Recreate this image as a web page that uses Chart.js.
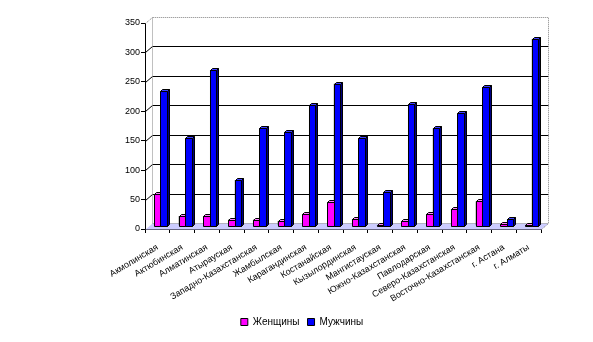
<!DOCTYPE html>
<html>
<head>
<meta charset="utf-8">
<script src="https://cdn.jsdelivr.net/npm/chart.js@4.4.1/dist/chart.umd.min.js"></script>
<style>
  html, body { margin: 0; padding: 0; background: #fff; }
  #wrap { width: 593px; height: 342px; }
</style>
</head>
<body>
<div id="wrap"><canvas id="chart"></canvas></div>
<script>
"use strict";
const regions = [
    'Акмолинская', 'Актюбинская', 'Алматинская', 'Атырауская',
    'Западно-Казахстанская', 'Жамбылская', 'Карагандинская', 'Костанайская',
    'Кызылординская', 'Мангистауская', 'Южно-Казахстанская', 'Павлодарская',
    'Северо-Казахстанская', 'Восточно-Казахстанская', 'г. Астана', 'г. Алматы'
];
const women = [54, 17, 17, 11, 11, 9, 21, 40, 12, 2, 8, 21, 29, 42, 3, 2];
const men = [230, 150, 265, 78, 166, 160, 206, 242, 149, 57, 207, 166, 192, 236, 12, 318];
const yMax = 350;
const yStep = 50;

const FONT = 'Arial, "Liberation Sans", sans-serif';
const DX = 7, DY = 6;      // depth of the box (back wall offset)
const BX = 3, BY = -3;     // bars stand in the middle of the depth
const D = 2;               // depth of each bar

function poly(ctx, pts, fill, stroke) {
    ctx.beginPath();
    ctx.moveTo(pts[0][0], pts[0][1]);
    for (let i = 1; i < pts.length; i++) ctx.lineTo(pts[i][0], pts[i][1]);
    ctx.closePath();
    if (fill) { ctx.fillStyle = fill; ctx.fill(); }
    if (stroke) { ctx.strokeStyle = stroke; ctx.lineWidth = 1; ctx.stroke(); }
}

const box3d = {
    id: 'box3d',
    beforeDatasetsDraw(chart) {
        const { ctx, chartArea: a, scales: { y } } = chart;
        const L = a.left + 0.5, R = a.right + 0.5, T = a.top + 0.5, B = a.bottom + 0.5;
        ctx.save();
        // floor
        poly(ctx, [[L, B], [R, B], [R + DX, B - DY], [L + DX, B - DY]], '#ccccff', null);
        // grid lines on the side and back walls
        ctx.strokeStyle = '#000';
        ctx.lineWidth = 1;
        for (let v = yStep; v < yMax; v += yStep) {
            const yy = Math.round(y.getPixelForValue(v)) + 0.5;
            ctx.beginPath();
            ctx.moveTo(L, yy);
            ctx.lineTo(L + DX, yy - DY);
            ctx.lineTo(R + DX, yy - DY);
            ctx.stroke();
        }
        // dotted frame
        ctx.setLineDash([1, 1]);
        ctx.strokeStyle = '#808080';
        ctx.beginPath();
        ctx.moveTo(L, T);
        ctx.lineTo(L + DX, T - DY);
        ctx.lineTo(R + DX, T - DY);
        ctx.lineTo(R + DX, B - DY);
        ctx.lineTo(R, B);
        ctx.moveTo(L + DX, T - DY);
        ctx.lineTo(L + DX, B - DY);
        ctx.lineTo(R + DX, B - DY);
        ctx.stroke();
        ctx.restore();

        ctx.save();
        ctx.translate(BX, BY);
    },
    afterDatasetsDraw(chart) {
        const { ctx } = chart;
        const faces = [
            { front: '#ff00ff', top: '#ff80ff', side: '#800080' },
            { front: '#0000ff', top: '#4040ff', side: '#000080' }
        ];
        const metas = chart.getSortedVisibleDatasetMetas();
        const n = chart.data.labels.length;
        for (let i = 0; i < n; i++) {
            metas.forEach((meta, k) => {
                const bar = meta.data[i];
                const f = faces[k];
                const x1 = Math.round(bar.x - bar.width / 2) + 0.5;
                const x2 = Math.round(bar.x + bar.width / 2) + 0.5;
                const yt = Math.round(bar.y) + 0.5;
                const yb = Math.round(bar.base) + 0.5;
                poly(ctx, [[x1, yt], [x2, yt], [x2, yb], [x1, yb]], f.front, '#000');
                poly(ctx, [[x2, yt], [x2 + D, yt - D], [x2 + D, yb - D], [x2, yb]], f.side, '#000');
                poly(ctx, [[x1, yt], [x1 + D, yt - D], [x2 + D, yt - D], [x2, yt]], f.top, '#000');
            });
        }
        ctx.restore();
    }
};

new Chart(document.getElementById('chart'), {
    type: 'bar',
    data: {
        labels: regions,
        datasets: [{
            label: 'Женщины',
            data: women,
            backgroundColor: '#ff00ff',
            borderColor: '#000',
            borderWidth: 1
        }, {
            label: 'Мужчины',
            data: men,
            backgroundColor: '#0000ff',
            borderColor: '#000',
            borderWidth: 1
        }]
    },
    options: {
        responsive: true,
        maintainAspectRatio: false,
        animation: false,
        devicePixelRatio: 1,
        categoryPercentage: 0.53,
        barPercentage: 1,
        layout: { padding: { top: 23, right: 52, bottom: 5, left: 63 } },
        plugins: {
            tooltip: { enabled: false },
            legend: {
                position: 'bottom',
                labels: {
                    boxWidth: 7,
                    boxHeight: 7,
                    padding: 8,
                    color: '#000',
                    font: { family: FONT, size: 10 }
                }
            }
        },
        scales: {
            x: {
                grid: { drawOnChartArea: false, drawTicks: true, tickLength: 4, color: '#000' },
                border: { display: true, color: '#000' },
                ticks: {
                    autoSkip: false,
                    minRotation: 31,
                    maxRotation: 31,
                    padding: 9,
                    color: '#000',
                    font: { family: FONT, size: 9 }
                },
                afterFit(s) { s.height = 80; }
            },
            y: {
                min: 0,
                max: yMax,
                ticks: {
                    stepSize: yStep,
                    padding: 1,
                    color: '#000',
                    font: { family: FONT, size: 9 }
                },
                grid: { drawOnChartArea: false, drawTicks: true, tickLength: 4, color: '#000' },
                border: { display: true, color: '#000' },
                afterFit(s) { s.width = 82; }
            }
        }
    },
    plugins: [box3d]
});
</script>
</body>
</html>
